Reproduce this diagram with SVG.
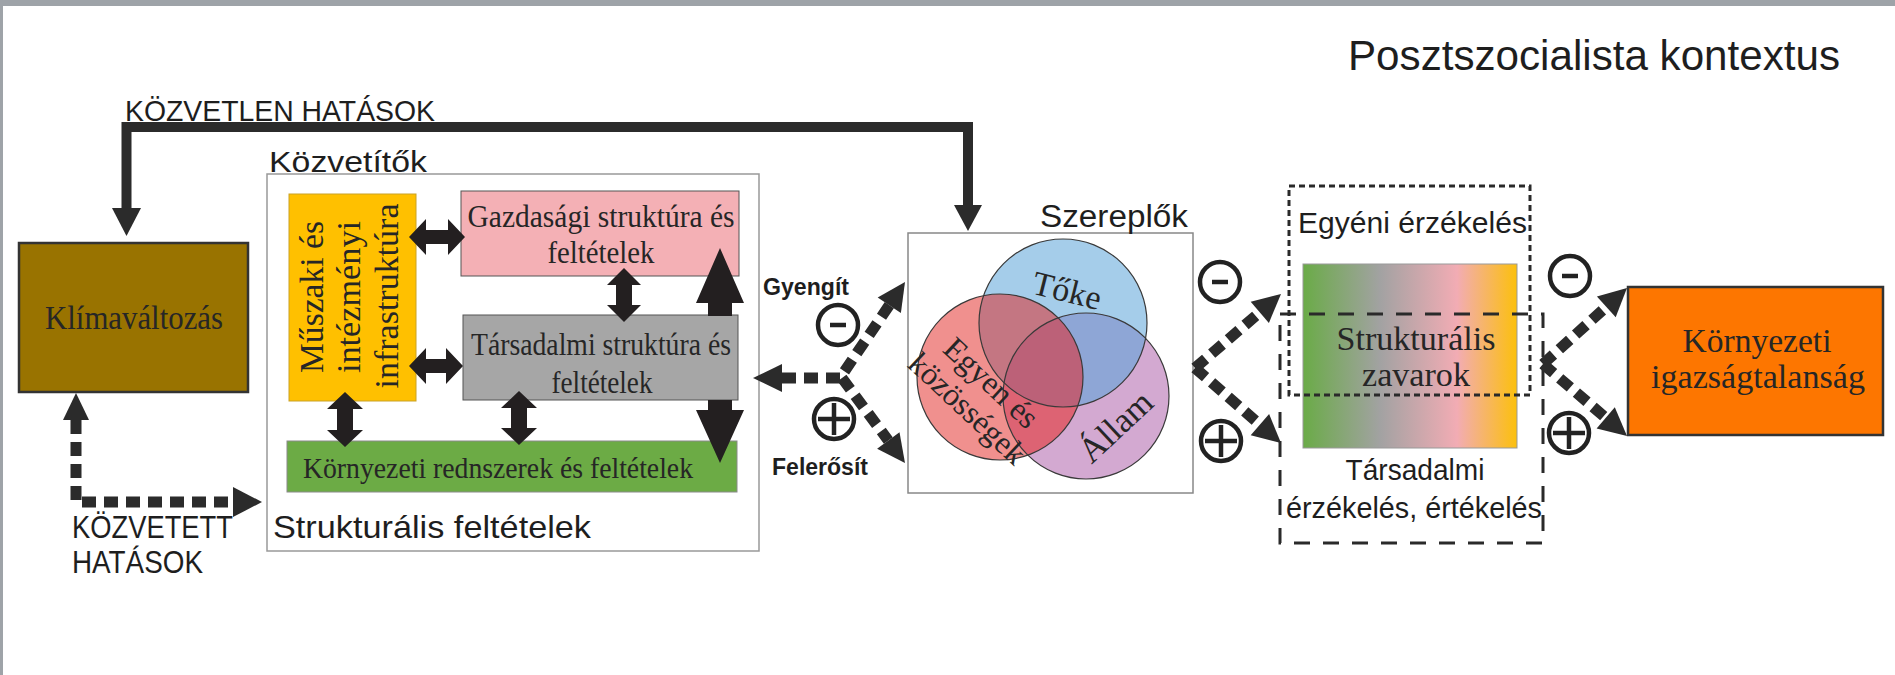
<svg xmlns="http://www.w3.org/2000/svg" width="1895" height="675" viewBox="0 0 1895 675">
<defs>
<style>
.sans{font-family:"Liberation Sans",Arial,sans-serif;fill:#1e1e1e}
.serif{font-family:"Liberation Serif","Times New Roman",serif;fill:#262626}
.bold{font-weight:bold}
.blk{fill:#231f20}
.thick{fill:none;stroke:#2b2b2b;stroke-width:10}
.dash{fill:none;stroke:#2b2b2b;stroke-width:11;stroke-dasharray:14 8}
.head{fill:#2b2b2b}
.sym{fill:none;stroke:#222;stroke-width:4.5}
.ring{fill:none;stroke:#3a3a3a;stroke-width:1.2}
.frame{fill:#fff;stroke:#999;stroke-width:1.5}
</style>
<linearGradient id="grad" x1="0" x2="1" y1="0" y2="0">
<stop offset="0" stop-color="#6aab47"/>
<stop offset="0.36" stop-color="#a2a2a2"/>
<stop offset="0.72" stop-color="#f2acb4"/>
<stop offset="1" stop-color="#fcc00c"/>
</linearGradient>
<clipPath id="cBlue"><circle cx="1063" cy="323" r="84"/></clipPath>
<clipPath id="cPurple"><circle cx="1086" cy="396" r="83"/></clipPath>
</defs>
<rect x="0" y="0" width="1895" height="675" fill="#fff"/>
<rect x="0" y="0" width="1895" height="6" fill="#9ea3a8"/>
<rect x="0" y="0" width="3" height="675" fill="#9ea3a8"/>

<text class="sans" x="1348" y="70" font-size="42" textLength="492" lengthAdjust="spacingAndGlyphs">Posztszocialista kontextus</text>

<g id="klima">
<rect x="19" y="243" width="229" height="149" fill="#997300" stroke="#333" stroke-width="2.5"/>
<text class="serif" x="134" y="329" font-size="34" text-anchor="middle" textLength="178" lengthAdjust="spacingAndGlyphs">Klímaváltozás</text>
</g>

<g id="kozvetitok">
<rect class="frame" x="267" y="174" width="492" height="377"/>
<text class="sans" x="269" y="172" font-size="29" textLength="158" lengthAdjust="spacingAndGlyphs">Közvetítők</text>
<text class="sans" x="273" y="538" font-size="32" textLength="318" lengthAdjust="spacingAndGlyphs">Strukturális feltételek</text>
</g>

<g id="muszaki">
<rect x="289" y="194" width="127" height="207" fill="#ffc000" stroke="#c9a227" stroke-width="1"/>
<g class="serif" font-size="34" text-anchor="middle">
<text transform="translate(323,297) rotate(-90)" textLength="152" lengthAdjust="spacingAndGlyphs">Műszaki és</text>
<text transform="translate(360,297) rotate(-90)" textLength="152" lengthAdjust="spacingAndGlyphs">intézményi</text>
<text transform="translate(398,296) rotate(-90)" textLength="185" lengthAdjust="spacingAndGlyphs">infrastruktúra</text>
</g>
</g>

<g id="gazdasagi">
<rect x="461" y="191" width="278" height="85" fill="#f4b0b5" stroke="#555" stroke-width="1"/>
<text class="serif" x="601" y="227" font-size="32" text-anchor="middle" textLength="267" lengthAdjust="spacingAndGlyphs">Gazdasági struktúra és</text>
<text class="serif" x="601" y="263" font-size="32" text-anchor="middle" textLength="107" lengthAdjust="spacingAndGlyphs">feltételek</text>
</g>

<g id="tarsadalmi">
<rect x="463" y="315" width="275" height="85" fill="#a6a6a6" stroke="#555" stroke-width="1"/>
<text class="serif" x="601" y="355" font-size="31" text-anchor="middle" textLength="260" lengthAdjust="spacingAndGlyphs">Társadalmi struktúra és</text>
<text class="serif" x="602" y="393" font-size="31" text-anchor="middle" textLength="101" lengthAdjust="spacingAndGlyphs">feltételek</text>
</g>

<g id="kornyezeti-rendszerek">
<rect x="287" y="441" width="450" height="51" fill="#6cab45" stroke="#8a8a8a" stroke-width="1"/>
<text class="serif" x="303" y="478" font-size="30" textLength="390" lengthAdjust="spacingAndGlyphs">Környezeti rednszerek és feltételek</text>
</g>

<g id="inner-arrows" class="blk">
<polygon points="409,237 426,219 426,230 448,230 448,219 465,237 448,255 448,244 426,244 426,255"/>
<polygon points="409,366 426,348 426,359 446,359 446,348 463,366 446,384 446,373 426,373 426,384"/>
<polygon points="624,268 641,285 632,285 632,305 641,305 624,322 607,305 616,305 616,285 607,285"/>
<polygon points="345,392 363,409 353,409 353,430 363,430 345,447 327,430 337,430 337,409 327,409"/>
<polygon points="519,391 537,408 527,408 527,428 537,428 519,445 501,428 511,428 511,408 501,408"/>
<polygon points="720,248 744,303 732,303 732,316 708,316 708,303 696,303"/>
<polygon points="708,400 732,400 732,410 744,410 720,463 696,410 708,410"/>
</g>

<g id="szereplok">
<rect x="908" y="233" width="285" height="260" fill="#fff" stroke="#888" stroke-width="1.5"/>
<text class="sans" x="1040" y="227" font-size="31" textLength="148" lengthAdjust="spacingAndGlyphs">Szereplők</text>
<circle cx="1063" cy="323" r="84" fill="#a5cdea"/>
<circle cx="1086" cy="396" r="83" fill="#d3a9d1"/>
<circle cx="1000" cy="377" r="83" fill="#f0908e"/>
<g clip-path="url(#cBlue)"><circle cx="1086" cy="396" r="83" fill="#8ea6d6"/><circle cx="1000" cy="377" r="83" fill="#c47682"/></g>
<g clip-path="url(#cPurple)"><circle cx="1000" cy="377" r="83" fill="#dd6373"/></g>
<g clip-path="url(#cBlue)"><g clip-path="url(#cPurple)"><circle cx="1000" cy="377" r="83" fill="#bc6178"/></g></g>
<circle class="ring" cx="1063" cy="323" r="84"/>
<circle class="ring" cx="1086" cy="396" r="83"/>
<circle class="ring" cx="1000" cy="377" r="83"/>
<g class="serif" text-anchor="middle">
<text transform="translate(1067,291) rotate(14)" y="11" font-size="34">Tőke</text>
<text transform="translate(1116,427) rotate(-43)" y="11" font-size="35">Állam</text>
<g transform="translate(980,395) rotate(43)" font-size="32">
<text x="0" y="-6">Egyen és</text>
<text x="0" y="29">közösségek</text>
</g>
</g>
</g>

<g id="erzekeles">
<rect x="1303" y="264" width="214" height="184" fill="url(#grad)" stroke="#999" stroke-width="1"/>
<text class="serif" x="1416" y="350" font-size="34" text-anchor="middle" fill="#333" textLength="159" lengthAdjust="spacingAndGlyphs">Strukturális</text>
<text class="serif" x="1416" y="386" font-size="34" text-anchor="middle" fill="#333" textLength="108" lengthAdjust="spacingAndGlyphs">zavarok</text>
<rect x="1289" y="186" width="241" height="209" fill="none" stroke="#2a2a2a" stroke-width="3" stroke-dasharray="6 4"/>
<rect x="1280" y="314" width="263" height="229" fill="none" stroke="#2a2a2a" stroke-width="3" stroke-dasharray="16 13"/>
<text class="sans" x="1298" y="233" font-size="29" textLength="229" lengthAdjust="spacingAndGlyphs">Egyéni érzékelés</text>
<text class="sans" x="1415" y="480" font-size="29" text-anchor="middle" textLength="139" lengthAdjust="spacingAndGlyphs">Társadalmi</text>
<text class="sans" x="1286" y="518" font-size="29" textLength="256" lengthAdjust="spacingAndGlyphs">érzékelés, értékelés</text>
</g>

<g id="igazsagtalansag">
<rect x="1628" y="287" width="255" height="148" fill="#fd7600" stroke="#333" stroke-width="2.5"/>
<text class="serif" x="1757" y="352" font-size="34" text-anchor="middle" textLength="149" lengthAdjust="spacingAndGlyphs">Környezeti</text>
<text class="serif" x="1758" y="388" font-size="34" text-anchor="middle" textLength="214" lengthAdjust="spacingAndGlyphs">igazságtalanság</text>
</g>

<g id="connectors">
<path class="thick" d="M968,207 V127 H126.5 V210"/>
<polygon class="head" points="112,208 141,208 126.5,236"/>
<polygon class="head" points="954,205 982,205 968,231"/>
<text class="sans" x="125" y="121" font-size="29" textLength="310" lengthAdjust="spacingAndGlyphs">KÖZVETLEN HATÁSOK</text>

<path class="dash" d="M76,420 V502 H233"/>
<polygon class="head" points="63,420 89,420 76,393"/>
<polygon class="head" points="233,487 233,517 262,502"/>
<text class="sans" x="72" y="538" font-size="31" textLength="161" lengthAdjust="spacingAndGlyphs">KÖZVETETT</text>
<text class="sans" x="72" y="573" font-size="31" textLength="131" lengthAdjust="spacingAndGlyphs">HATÁSOK</text>

<path class="dash" d="M782,378 H840 L889.3,305.2"/>
<path class="dash" d="M842,378 L888.3,440.5"/>
<polygon class="head" points="782,364 782,392 753,378"/>
<polygon class="head" points="905,282 900.9,313 877.7,297.4"/>
<polygon class="head" points="905,463 877.1,448.8 899.5,432.2"/>
<text class="sans bold" x="763" y="295" font-size="23" textLength="86" lengthAdjust="spacingAndGlyphs">Gyengít</text>
<text class="sans bold" x="772" y="475" font-size="23" textLength="96" lengthAdjust="spacingAndGlyphs">Felerősít</text>
<circle class="sym" cx="838" cy="325" r="20"/><path class="sym" d="M830,325 H846"/>
<circle class="sym" cx="834" cy="419" r="20"/><path class="sym" d="M818,419 H850 M834,403 V435"/>

<path class="dash" d="M1195,368 L1259.8,312.3"/>
<path class="dash" d="M1195,368 L1259.9,424.6"/>
<polygon class="head" points="1281,294 1268.9,322.9 1250.7,301.7"/>
<polygon class="head" points="1281,443 1250.7,435.2 1269.1,414"/>
<circle class="sym" cx="1220" cy="282" r="20"/><path class="sym" d="M1212,282 H1228"/>
<circle class="sym" cx="1221" cy="441" r="20"/><path class="sym" d="M1205,441 H1237 M1221,425 V457"/>

<path class="dash" d="M1543,364 L1606.3,306.8"/>
<path class="dash" d="M1543,364 L1605.7,417.8"/>
<polygon class="head" points="1627,288 1615.7,317.2 1596.9,296.4"/>
<polygon class="head" points="1627,436 1596.6,428.4 1614.8,407.2"/>
<circle class="sym" cx="1570" cy="276" r="20"/><path class="sym" d="M1562,276 H1578"/>
<circle class="sym" cx="1569" cy="433" r="20"/><path class="sym" d="M1553,433 H1585 M1569,417 V449"/>
</g>
</svg>
